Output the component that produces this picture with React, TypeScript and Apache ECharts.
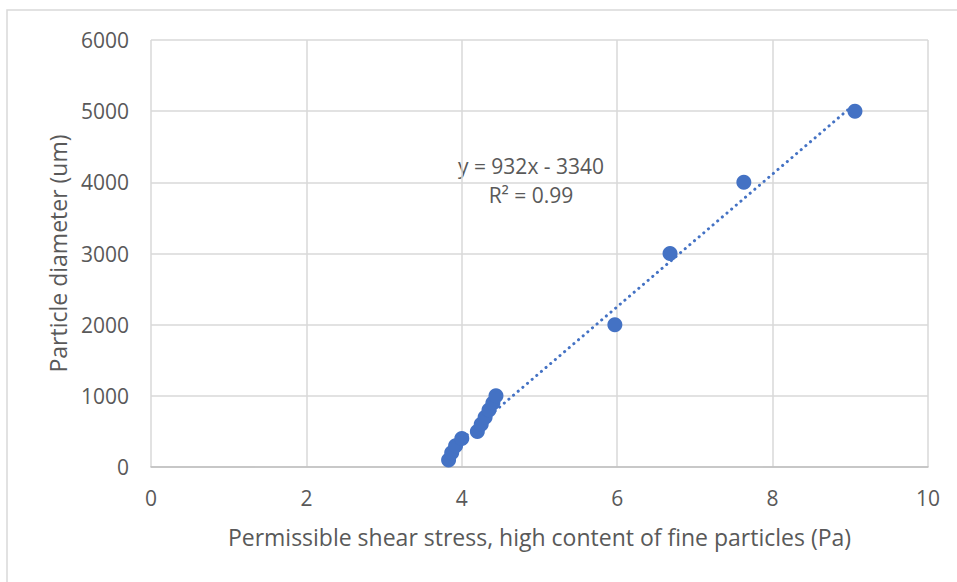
import React, { useEffect, useRef } from "react";
import * as echarts from "echarts";

// Permissible shear stress (Pa) vs particle diameter (um)
const shearStress = [3.83, 3.87, 3.92, 4.0, 4.2, 4.25, 4.3, 4.35, 4.4, 4.44, 5.97, 6.68, 7.63, 9.06];
const diameter = [100, 200, 300, 400, 500, 600, 700, 800, 900, 1000, 2000, 3000, 4000, 5000];

// Linear trendline y = slope * x + intercept
const slope = 932;
const intercept = -3340;
const rSquared = "0.99";

const xTicks = { min: 0, max: 10, interval: 2 };
const yTicks = { min: 0, max: 6000, interval: 1000 };

const xTitle = "Permissible shear stress, high content of fine particles (Pa)";
const yTitle = "Particle diameter (um)";

const FONT = "'Open Sans', sans-serif";
const TEXT = "#595959";
const GRID = "#d9d9d9";
const BLUE = "#4472c4";

export default function App() {
  const ref = useRef<HTMLDivElement>(null);

  useEffect(() => {
    if (!ref.current) return;
    const chart = echarts.init(ref.current, undefined, { renderer: "svg" });

    const points = shearStress.map((x, i) => [x, diameter[i]]);
    const xLo = Math.min(...shearStress);
    const xHi = Math.max(...shearStress);
    const trend = [
      [xLo, slope * xLo + intercept],
      [xHi, slope * xHi + intercept],
    ];
    const eqText = `y = ${slope}x - ${Math.abs(intercept)}`;
    const plain = (v: number) => String(v);

    chart.setOption({
      animation: false,
      backgroundColor: "#ffffff",
      grid: { left: 151, right: 29, top: 40, bottom: 115 },
      xAxis: {
        type: "value",
        ...xTicks,
        name: xTitle,
        nameLocation: "middle",
        nameGap: 58,
        nameTextStyle: { color: TEXT, fontFamily: FONT, fontSize: 23 },
        axisLine: { show: true, lineStyle: { color: "#bfbfbf", width: 1.5 } },
        axisTick: { show: false },
        axisLabel: { color: TEXT, fontFamily: FONT, fontSize: 21, margin: 20, formatter: plain },
        splitLine: { show: true, lineStyle: { color: GRID, width: 1.5 } },
      },
      yAxis: {
        type: "value",
        ...yTicks,
        name: yTitle,
        nameLocation: "middle",
        nameGap: 82,
        nameTextStyle: { color: TEXT, fontFamily: FONT, fontSize: 23 },
        axisLine: { show: false },
        axisTick: { show: false },
        axisLabel: { color: TEXT, fontFamily: FONT, fontSize: 21, margin: 22, formatter: plain },
        splitLine: { show: true, lineStyle: { color: GRID, width: 1.5 } },
      },
      series: [
        {
          type: "line",
          data: trend,
          symbol: "none",
          z: 1,
          lineStyle: { color: BLUE, width: 3, type: [0.1, 6], cap: "round" },
          silent: true,
        },
        {
          type: "scatter",
          data: points,
          symbol: "circle",
          symbolSize: 15,
          z: 2,
          itemStyle: { color: BLUE, opacity: 1 },
        },
      ],
      graphic: [
        {
          type: "rect",
          shape: { x: 7, y: 10, width: 1000, height: 1000 },
          style: { fill: "none", stroke: GRID, lineWidth: 1.5 },
          silent: true,
        },
        {
          type: "text",
          x: 531,
          y: 166,
          style: {
            text: eqText,
            fill: TEXT,
            font: `21px ${FONT}`,
            align: "center",
            verticalAlign: "middle",
          },
        },
        {
          type: "text",
          x: 531,
          y: 195,
          style: {
            text: `R² = ${rSquared}`,
            fill: TEXT,
            font: `21px ${FONT}`,
            align: "center",
            verticalAlign: "middle",
          },
        },
      ],
    });

    return () => chart.dispose();
  }, []);

  return (
    <div
      ref={ref}
      style={{ position: "fixed", left: 0, top: 0, width: 957, height: 582, background: "#fff" }}
    />
  );
}
